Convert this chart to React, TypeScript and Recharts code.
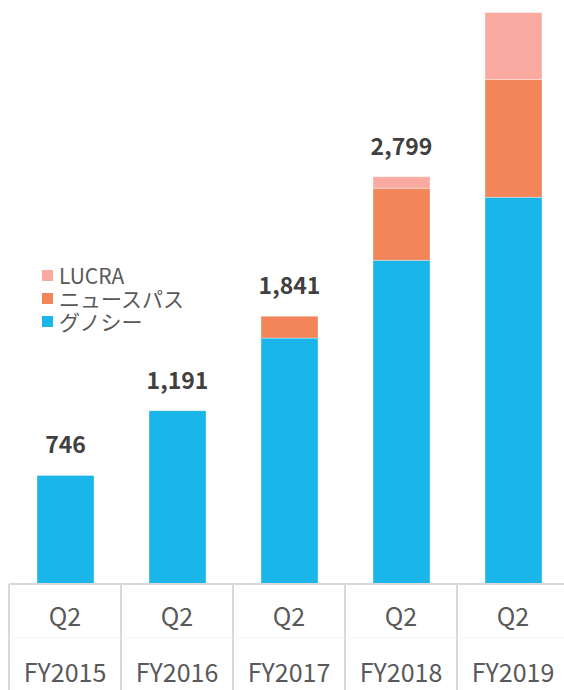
import { Bar, BarChart, LabelList, XAxis, YAxis } from "recharts";

const quarters = ["Q2", "Q2", "Q2", "Q2", "Q2"];
const years = ["FY2015", "FY2016", "FY2017", "FY2018", "FY2019"];
const gunosy = [746, 1191, 1690, 2225, 2658];
const newspass = [0, 0, 151, 495, 810];
const lucra = [0, 0, 0, 79, 460];

const SERIES = [
  { key: "gunosy", name: "グノシー", color: "#1bb6e9" },
  { key: "newspass", name: "ニュースパス", color: "#f2855a" },
  { key: "lucra", name: "LUCRA", color: "#fbaaa1" },
];

const FONT = '"Noto Sans CJK JP", "Noto Sans", sans-serif';
const CHART_W = 570;
const CHART_H = 690;
const MARGIN = { top: 2, right: 1, bottom: 0, left: 9 };
const AXIS_H = 106;
const BAND = (CHART_W - MARGIN.left - MARGIN.right) / years.length;

const data = years.map((y, i) => ({
  year: y,
  quarter: quarters[i],
  gunosy: gunosy[i],
  newspass: newspass[i],
  lucra: lucra[i],
  total: gunosy[i] + newspass[i] + lucra[i],
}));

// key of the highest non-empty segment, so the total sits on top of the stack
function topKey(d: any) {
  let k = SERIES[0].key;
  SERIES.forEach((s) => {
    if (d[s.key] > 0) k = s.key;
  });
  return k;
}

function CategoryTick(props: any) {
  const { x, y, index } = props;
  const left = x - BAND / 2;
  const right = x + BAND / 2;
  return (
    <g>
      <line x1={left} y1={y} x2={left} y2={y + AXIS_H} stroke="#d9d9d9" strokeWidth={2} />
      <line x1={right} y1={y} x2={right} y2={y + AXIS_H} stroke="#d9d9d9" strokeWidth={2} />
      <line x1={left} y1={y + 54} x2={right} y2={y + 54} stroke="#f4f4f4" strokeWidth={1} />
      <text x={x} y={y + 42} textAnchor="middle" fill="#595959" fontSize={25} fontFamily={FONT}>
        {quarters[index]}
      </text>
      <text x={x} y={y + 98} textAnchor="middle" fill="#595959" fontSize={25} fontFamily={FONT}>
        {years[index]}
      </text>
    </g>
  );
}

function TotalLabel(props: any) {
  const { x, y, width, value } = props;
  if (value == null || y - 22 < 20) return null;
  return (
    <text
      x={x + width / 2}
      y={y - 22}
      textAnchor="middle"
      fill="#404040"
      fontSize={23}
      fontWeight="bold"
      fontFamily={FONT}
    >
      {Number(value).toLocaleString("en-US")}
    </text>
  );
}

export default function App() {
  return (
    <div
      style={{
        position: "absolute",
        left: 0,
        top: 0,
        width: 564,
        height: CHART_H,
        overflow: "hidden",
        background: "#fff",
      }}
    >
      <BarChart width={CHART_W} height={CHART_H} data={data} margin={MARGIN}>
        <XAxis
          dataKey="year"
          height={AXIS_H}
          tickSize={0}
          tickMargin={0}
          tickLine={false}
          axisLine={{ stroke: "#d9d9d9", strokeWidth: 2 }}
          tick={<CategoryTick />}
          interval={0}
        />
        <YAxis hide domain={[0, 4000]} />
        {SERIES.map((s) => (
          <Bar
            key={s.key}
            dataKey={s.key}
            name={s.name}
            stackId="a"
            fill={s.color}
            stroke="#ffffff"
            strokeOpacity={0.35}
            strokeWidth={1}
            barSize={57}
            isAnimationActive={false}
          >
            <LabelList
              dataKey={(d: any) => (topKey(d) === s.key ? d.total : null)}
              content={<TotalLabel />}
            />
          </Bar>
        ))}
      </BarChart>
      <div
        style={{
          position: "absolute",
          left: 42,
          top: 264,
          fontFamily: FONT,
          fontSize: 21,
          color: "#595959",
        }}
      >
        {[...SERIES].reverse().map((s) => (
          <div key={s.key} style={{ display: "flex", alignItems: "center", height: 23 }}>
            <span
              style={{
                display: "inline-block",
                width: 11,
                height: 11,
                background: s.color,
                marginRight: 6,
              }}
            />
            <span style={{ lineHeight: "21px" }}>{s.name}</span>
          </div>
        ))}
      </div>
    </div>
  );
}
